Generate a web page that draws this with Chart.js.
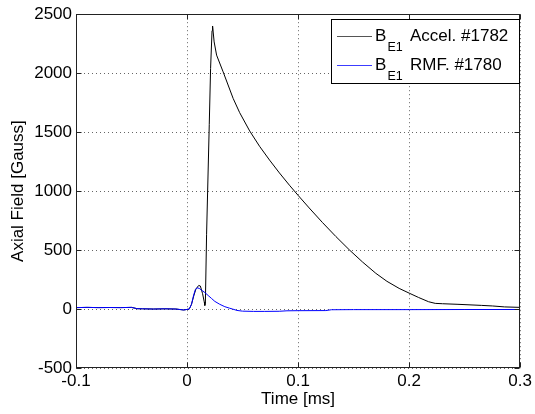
<!DOCTYPE html>
<html>
<head>
<meta charset="utf-8">
<script src="https://cdn.jsdelivr.net/npm/chart.js@4.4.1/dist/chart.umd.min.js"></script>
<style>
  html, body { margin: 0; padding: 0; background: #fff; }
  #wrap { width: 535px; height: 414px; }
</style>
</head>
<body>
<div id="wrap"><canvas id="c" width="535" height="414"></canvas></div>
<script>
// ---- data ----
const xTicks = [-0.1, 0, 0.1, 0.2, 0.3];
const yTicks = [-500, 0, 500, 1000, 1500, 2000, 2500];

const legendLabels = [
  { main: "B", sub: "E1", rest: "Accel. #1782" },
  { main: "B", sub: "E1", rest: "RMF. #1780" }
];

// Accel. #1782 (black)
const tAccel = [-0.1, -0.09, -0.08, -0.07, -0.06, -0.05, -0.045, -0.04, -0.03, -0.02, -0.01, -0.003, 0.002,
  0.004, 0.006, 0.008, 0.0105, 0.012, 0.014, 0.0155, 0.016, 0.0165, 0.0176, 0.02, 0.0212, 0.0225, 0.023,
  0.0244, 0.0266, 0.0325, 0.0415, 0.0474, 0.0564, 0.0653, 0.0743, 0.0832, 0.0922, 0.1, 0.11, 0.122, 0.134,
  0.146, 0.158, 0.17, 0.18, 0.191, 0.2, 0.2085, 0.2175, 0.2235, 0.23, 0.244, 0.265, 0.275, 0.286, 0.3];
const bAccel = [12, 14, 12, 13, 12, 14, 3, 2, 0, 2, 0, -8, 0,
  40, 110, 170, 200, 195, 130, 60, 30, 50, 634, 1563, 2040, 2360, 2400,
  2265, 2153, 2011, 1786, 1665, 1510, 1380, 1263, 1154, 1050, 964, 857, 733, 615,
  503, 399, 303, 235, 175, 135, 98, 62, 48, 45, 40, 31, 26, 18, 14];

// RMF. #1780 (blue)
const tRmf = [-0.1, -0.09, -0.08, -0.07, -0.06, -0.05, -0.045, -0.04, -0.03, -0.02, -0.01, -0.003, 0.002,
  0.004, 0.006, 0.0075, 0.009, 0.011, 0.013, 0.016, 0.019, 0.022, 0.025, 0.0295, 0.034, 0.038, 0.041,
  0.045, 0.05, 0.06, 0.07, 0.083, 0.09, 0.1, 0.125, 0.13, 0.15, 0.2, 0.25, 0.3];
const bRmf = [12, 14, 12, 13, 12, 14, 3, 2, 0, 2, 0, -8, 0,
  40, 120, 165, 180, 175, 160, 140, 115, 90, 65, 40, 20, 8, 0,
  -12, -18, -20, -20, -19, -15, -14, -13, -6, -5, -5, -4, -4];

const toPts = (xs, ys) => xs.map((x, i) => ({ x: x, y: ys[i] }));

const FONT = "'Liberation Sans', Arial, Helvetica, sans-serif";
const SERIES_COLORS = ['#000000', '#0000ff'];
const LEGEND_LINE_COLORS = ['#555555', '#3c3cff'];

const framePlugin = {
  id: 'frame',
  afterDatasetsDraw(chart) {
    const { ctx, chartArea: a, scales } = chart;
    ctx.save();
    ctx.setLineDash([]);
    ctx.strokeStyle = '#222';
    ctx.lineWidth = 1;
    const L = Math.round(a.left) + 0.5, R = Math.round(a.right) - 0.5;
    const T = Math.round(a.top) + 0.5, B = Math.round(a.bottom) - 0.5;
    ctx.strokeRect(L, T, R - L, B - T);
    const tl = 5;
    ctx.beginPath();
    xTicks.forEach(v => {
      const px = Math.round(scales.x.getPixelForValue(v)) + 0.5;
      ctx.moveTo(px, B); ctx.lineTo(px, B - tl);
      ctx.moveTo(px, T); ctx.lineTo(px, T + tl);
    });
    yTicks.forEach(v => {
      const py = Math.round(scales.y.getPixelForValue(v)) + 0.5;
      ctx.moveTo(L, py); ctx.lineTo(L + tl, py);
      ctx.moveTo(R, py); ctx.lineTo(R - tl, py);
    });
    ctx.stroke();

    // legend
    const lx = 331.5, ly = 19.5, lw = 188, lh = 64;
    ctx.fillStyle = '#fff';
    ctx.fillRect(lx, ly, lw, lh);
    ctx.strokeStyle = '#000';
    ctx.strokeRect(lx, ly, lw, lh);
    legendLabels.forEach((lab, i) => {
      const cy = 36 + i * 29;
      ctx.fillStyle = LEGEND_LINE_COLORS[i];
      ctx.fillRect(337, cy, 35, 1);
      ctx.fillStyle = '#000';
      ctx.textBaseline = 'alphabetic';
      ctx.textAlign = 'left';
      ctx.font = '17px ' + FONT;
      ctx.fillText(lab.main, 375, cy + 4.5);
      ctx.font = '12.5px ' + FONT;
      ctx.fillText(lab.sub, 387.5, cy + 15);
      ctx.font = '17px ' + FONT;
      ctx.fillText(lab.rest, 410, cy + 4.5);
    });
    ctx.restore();
  }
};

const gridOpts = { color: '#666', drawTicks: false, lineWidth: 1 };
const borderOpts = { display: false, dash: [1, 3] };

new Chart(document.getElementById('c'), {
  type: 'line',
  data: {
    datasets: [
      { label: 'BE1 Accel. #1782', data: toPts(tAccel, bAccel), borderColor: SERIES_COLORS[0], borderWidth: 1,
        pointRadius: 0, tension: 0, fill: false, order: 1 },
      { label: 'BE1 RMF. #1780', data: toPts(tRmf, bRmf), borderColor: SERIES_COLORS[1], borderWidth: 1,
        pointRadius: 0, tension: 0, fill: false, order: 0 }
    ]
  },
  options: {
    responsive: false,
    animation: false,
    events: [],
    layout: { padding: { top: 13, right: 12, left: 0, bottom: 0 } },
    plugins: { legend: { display: false }, tooltip: { enabled: false } },
    scales: {
      x: {
        type: 'linear', min: -0.1, max: 0.3,
        afterBuildTicks: s => { s.ticks = xTicks.map(v => ({ value: v })); },
        afterFit: s => { s.height = 46; },
        grid: gridOpts,
        border: borderOpts,
        ticks: { color: '#000', font: { family: FONT, size: 17 }, padding: 3, maxRotation: 0, autoSkip: false,
          callback: v => String(Math.round(v * 10) / 10) },
        title: { display: true, text: 'Time [ms]', color: '#000', font: { family: FONT, size: 17 },
          padding: { top: 0, bottom: 4 } }
      },
      y: {
        type: 'linear', min: -500, max: 2500,
        afterBuildTicks: s => { s.ticks = yTicks.map(v => ({ value: v })); },
        afterFit: s => { s.width = 76; },
        grid: gridOpts,
        border: borderOpts,
        ticks: { color: '#000', font: { family: FONT, size: 17 }, padding: 4, autoSkip: false,
          callback: v => String(v) },
        title: { display: true, text: 'Axial Field [Gauss]', color: '#000', font: { family: FONT, size: 17 },
          padding: { top: 8, bottom: 0 } }
      }
    }
  },
  plugins: [framePlugin]
});
</script>
</body>
</html>
